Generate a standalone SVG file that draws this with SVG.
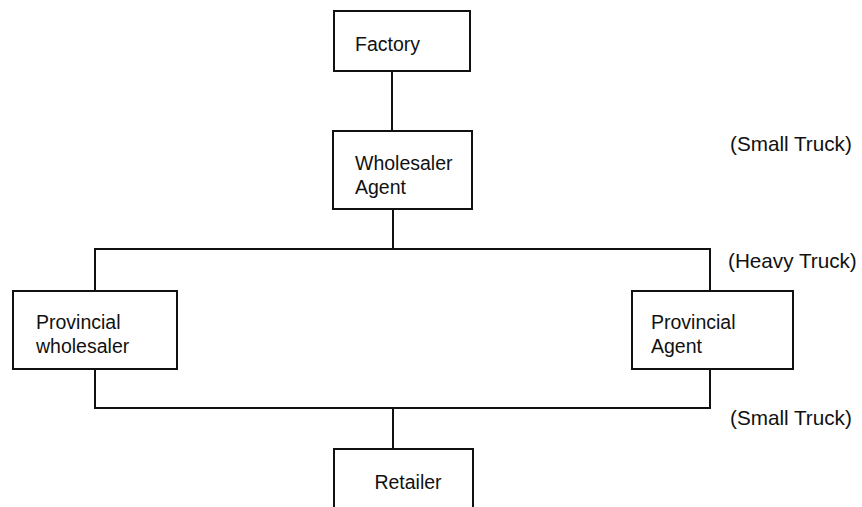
<svg xmlns="http://www.w3.org/2000/svg" width="862" height="507" viewBox="0 0 862 507">
<style>
.box{fill:#fff;stroke:#111;stroke-width:2}
.t{font-family:"Liberation Sans",Arial,sans-serif;font-size:19.5px;fill:#111}
.l{font-size:20.7px}
.c{fill:none;stroke:#111;stroke-width:2}
</style>
<rect width="862" height="507" fill="#fff"/>
<g id="connectors">
<line class="c" x1="392" y1="71" x2="392" y2="131"/>
<line class="c" x1="393" y1="209" x2="393" y2="249"/>
<polyline class="c" points="95,291 95,249 710,249 710,291"/>
<polyline class="c" points="95,369 95,408 710,408 710,369"/>
<line class="c" x1="393" y1="408" x2="393" y2="449"/>
</g>
<g id="factory">
<rect class="box" x="334" y="11" width="136" height="60"/>
<text class="t" x="355" y="51">Factory</text>
</g>
<g id="wholesaler-agent">
<rect class="box" x="333" y="131" width="139" height="78"/>
<text class="t" x="355" y="170">Wholesaler</text>
<text class="t" x="355" y="194">Agent</text>
</g>
<g id="provincial-wholesaler">
<rect class="box" x="13" y="291" width="164" height="78"/>
<text class="t" x="36" y="329">Provincial</text>
<text class="t" x="36" y="353">wholesaler</text>
</g>
<g id="provincial-agent">
<rect class="box" x="632" y="291" width="161" height="78"/>
<text class="t" x="651" y="329">Provincial</text>
<text class="t" x="651" y="353">Agent</text>
</g>
<g id="retailer">
<rect class="box" x="334" y="449" width="139" height="70"/>
<text class="t" x="408" y="489" text-anchor="middle">Retailer</text>
</g>
<g id="labels">
<text class="t l" x="730" y="151">(Small Truck)</text>
<text class="t l" x="728" y="268">(Heavy Truck)</text>
<text class="t l" x="730" y="425">(Small Truck)</text>
</g>
</svg>
